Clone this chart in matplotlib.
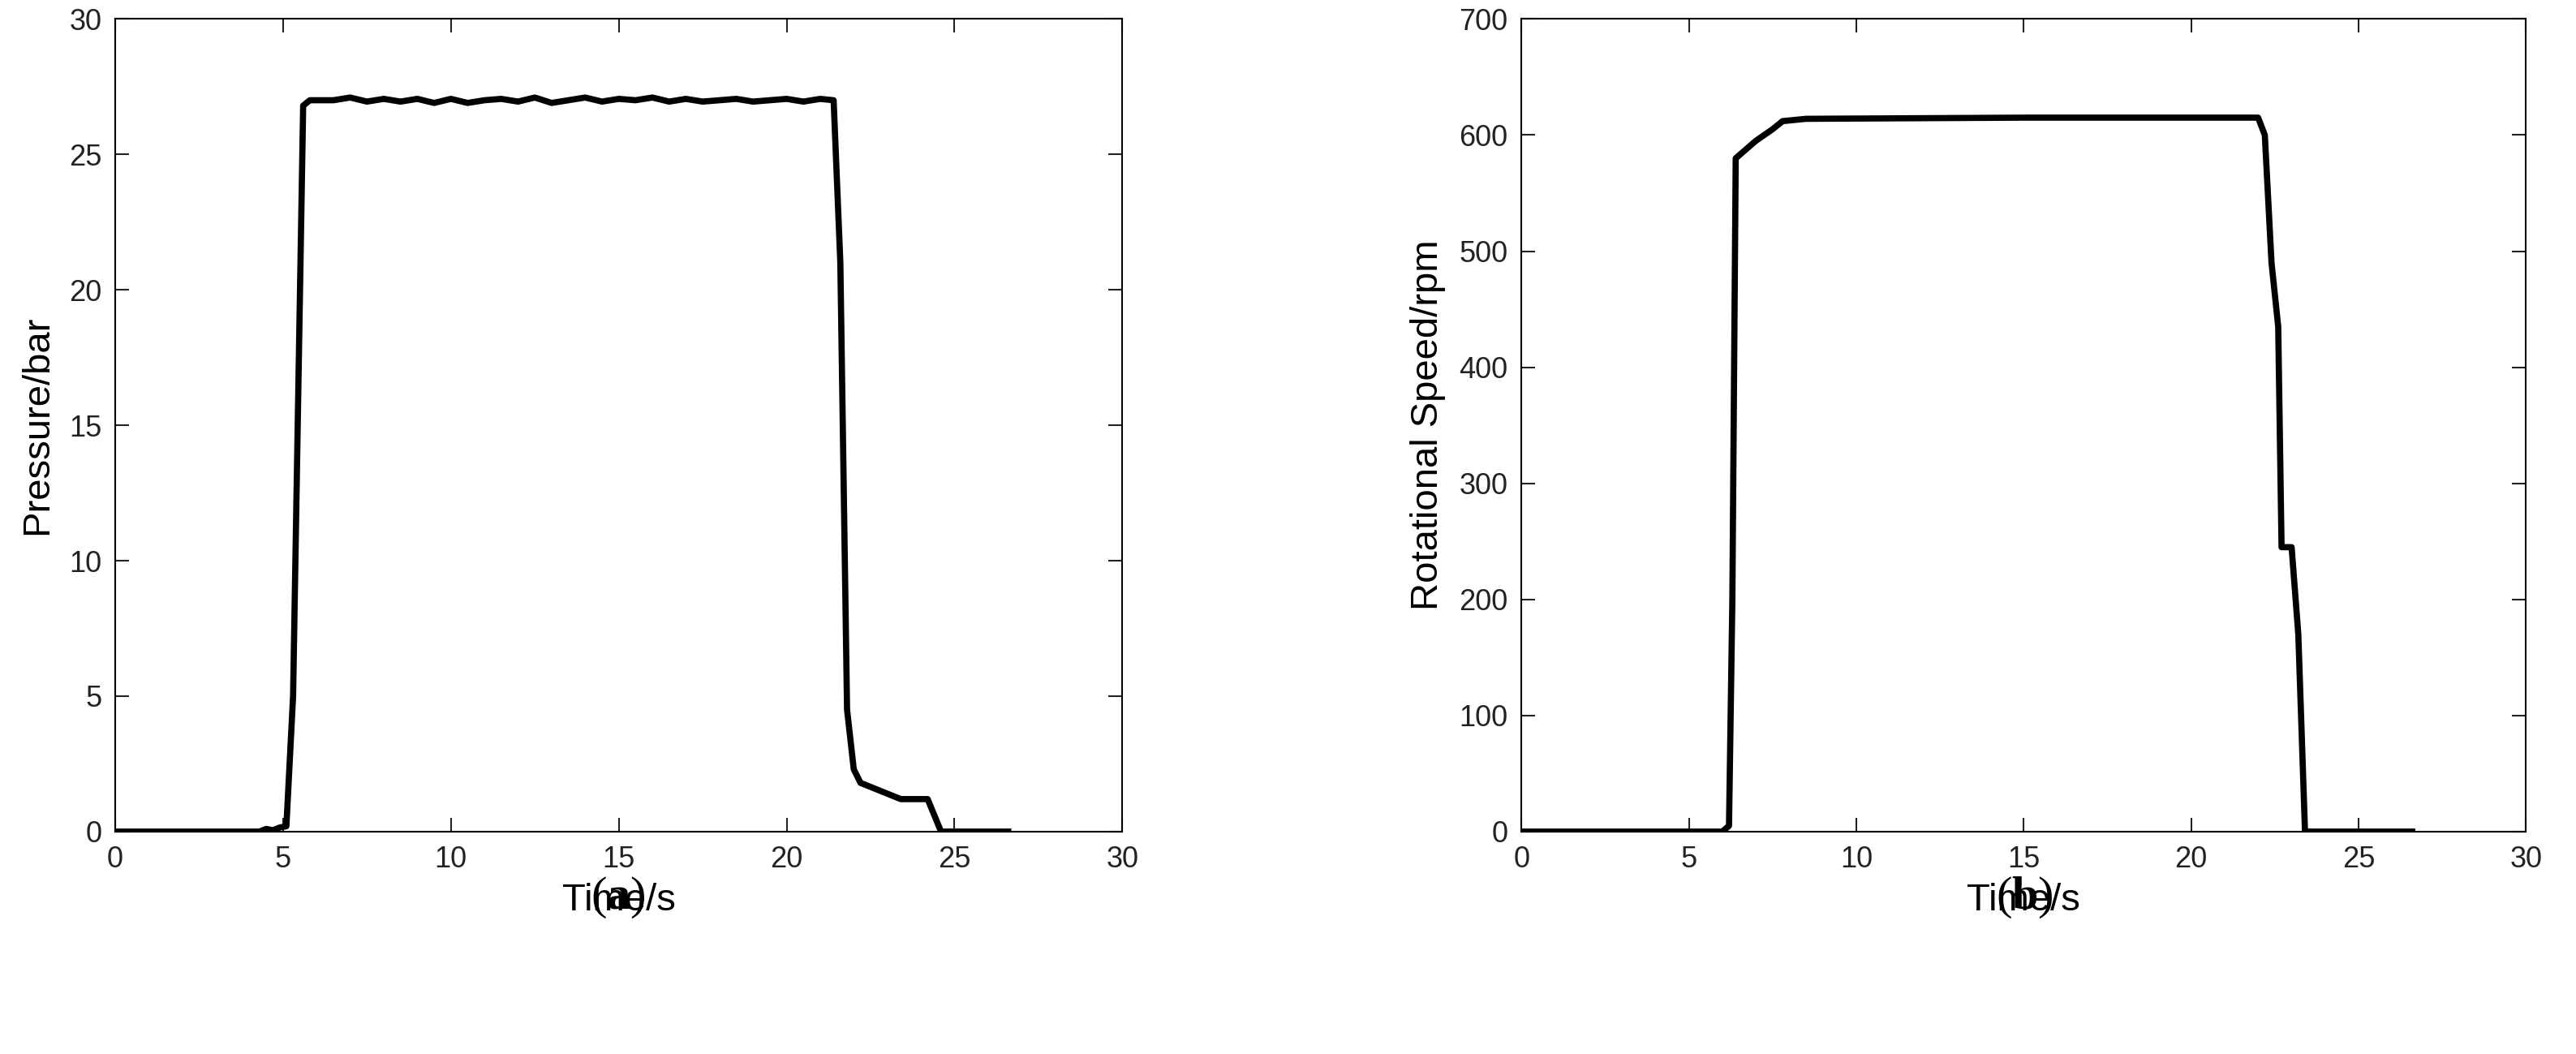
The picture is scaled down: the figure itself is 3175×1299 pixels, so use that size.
import matplotlib
matplotlib.use("Agg")
import matplotlib.pyplot as plt

# Panel (a): pressure vs time
t_a = [0, 4.3, 4.5, 4.7, 4.9, 5.1, 5.3, 5.6, 5.8, 6.5, 7.0, 7.5, 8.0, 8.5, 9.0, 9.5, 10.0,
       10.5, 11.0, 11.5, 12.0, 12.5, 13.0, 13.5, 14.0, 14.5, 15.0, 15.5, 16.0, 16.5,
       17.0, 17.5, 18.0, 18.5, 19.0, 19.5, 20.0, 20.5, 21.0, 21.4, 21.6, 21.8, 22.0,
       22.2, 22.6, 23.0, 23.4, 24.2, 24.6, 26.6]
p_a = [0, 0, 0.1, 0.05, 0.15, 0.2, 5.0, 26.8, 27.0, 27.0, 27.1, 26.95, 27.05, 26.95,
       27.05, 26.9, 27.05, 26.9, 27.0, 27.05, 26.95, 27.1, 26.9, 27.0, 27.1, 26.95,
       27.05, 27.0, 27.1, 26.95, 27.05, 26.95, 27.0, 27.05, 26.95, 27.0, 27.05, 26.95,
       27.05, 27.0, 21.0, 4.5, 2.3, 1.8, 1.6, 1.4, 1.2, 1.2, 0, 0]

# Panel (b): rotational speed vs time
t_b = [0, 6.0, 6.2, 6.3, 6.4, 7.0, 7.5, 7.8, 8.5, 15.0, 22.0, 22.2, 22.4, 22.6, 22.7,
       23.0, 23.2, 23.4, 26.6]
n_b = [0, 0, 5, 200, 580, 595, 605, 612, 614, 615, 615, 600, 490, 435, 245, 245, 170, 0, 0]

plt.rcParams['font.family'] = ['Liberation Sans', 'DejaVu Sans']
plt.rcParams['mathtext.fontset'] = 'custom'
plt.rcParams['mathtext.bf'] = 'Liberation Serif:bold'
plt.rcParams['mathtext.rm'] = 'Liberation Serif'

fig = plt.figure(figsize=(31.75, 12.99), dpi=100, facecolor='white')
ax1 = fig.add_axes([0.0447, 0.211, 0.391, 0.771])
ax2 = fig.add_axes([0.5906, 0.211, 0.390, 0.771])

ax1.plot(t_a, p_a, color='black', lw=5.5)
ax1.set_ylim(0, 30)
ax1.set_yticks(range(0, 31, 5))
ax1.set_ylabel('Pressure/bar', fontsize=34, labelpad=12)

ax2.plot(t_b, n_b, color='black', lw=5.5)
ax2.set_ylim(0, 700)
ax2.set_yticks(range(0, 701, 100))
ax2.set_ylabel('Rotational Speed/rpm', fontsize=34, labelpad=12)

for ax in (ax1, ax2):
    ax.set_xlim(0, 30)
    ax.set_xticks(range(0, 31, 5))
    ax.set_xlabel('Time/s', fontsize=34, labelpad=8)
    ax.tick_params(direction='in', top=True, right=True, labelsize=26, length=12,
                   width=1.5, pad=12, colors='#222222')
    for s in ax.spines.values():
        s.set_linewidth(1.5)

fig.text(0.24, 0.148, r'$\mathrm{(}\mathbf{a}\mathrm{)}$', fontsize=42, ha='center', va='center')
fig.text(0.786, 0.148, r'$\mathrm{(}\mathbf{b}\mathrm{)}$', fontsize=42, ha='center', va='center')

fig.savefig('out.png', dpi=100, facecolor='white')
